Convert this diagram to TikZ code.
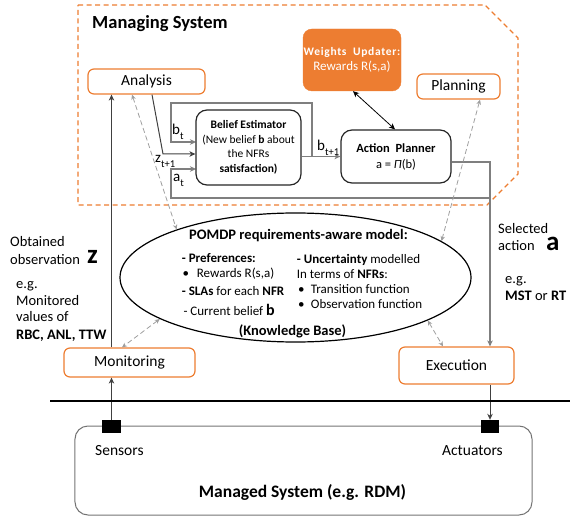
\documentclass[tikz,border=0pt]{standalone}
\usepackage{fontspec}
\setmainfont{Carlito}
\usetikzlibrary{arrows.meta,shapes.geometric}
\definecolor{org}{HTML}{ED7D31}
\definecolor{gl}{HTML}{7F7F7F}
\newcommand\fsz[1]{\fontsize{#1bp}{#1bp}\selectfont}
\newcommand\subt[1]{\raisebox{-0.3em}{\fontsize{10.5bp}{10.5bp}\selectfont #1}}
\begin{document}
\begin{tikzpicture}[x=1bp,y=-1bp,
  >={Stealth[length=6bp,width=5.5bp,inset=1.8bp]},
  obox/.style={draw=org, line width=1.2bp, rounded corners=6bp, fill=white, inner sep=0pt},
  kbox/.style={draw=black!85, line width=1.2bp, rounded corners=11bp, fill=white, inner sep=0pt, align=center},
  gline/.style={draw=gl, line width=1.1bp},
  dline/.style={draw=black!75, line width=1bp},
  dash2/.style={draw=gray!75, line width=0.8bp, dash pattern=on 5bp off 3bp,
     {Stealth[length=5bp,width=4.5bp,inset=1.5bp]}-{Stealth[length=5bp,width=4.5bp,inset=1.5bp]}},
  txt/.style={inner sep=0pt, anchor=base west},
  ctxt/.style={inner sep=0pt, anchor=base},
]
\useasboundingbox (0,0) rectangle (570,518);

% managing system outline
\draw[org, line width=1.2bp, dash pattern=on 5bp off 3.5bp]
  (78,5) -- (485,5) -- (518,38) -- (518,174) -- (487,205) -- (78,205) -- cycle;
\node[txt, font=\fsz{18.5}\bfseries] (mstitle) at (92,28.3) {Managing System};

% feedback loops behind boxes
\draw[gline,->] (312,156.5) -- (312,103) -- (171,103) -- (171,142) -- (196,142);
\draw[gline,->] (490,198) -- (171,198) -- (171,169) -- (196,169);

% boxes
\node[obox, minimum width=117bp, minimum height=25bp, font=\fsz{15.5}] (ana) at (146.5,81.5) {Analysis};
\node[obox, minimum width=83bp, minimum height=25bp, font=\fsz{15.5}] (pla) at (458.5,86.5) {Planning};
\node[fill=org, draw=org, rounded corners=9bp, minimum width=98bp, minimum height=62bp, inner sep=0pt,
      align=center, text=white] (wu) at (352,60)
  {{\fsz{11.5}\bfseries\addfontfeature{LetterSpace=6}Weights\ \ Updater:}\\[3bp]{\fsz{13}Rewards R(s,a)}};
\node[kbox, minimum width=105bp, minimum height=75bp, font=\fontsize{11.5bp}{14.5bp}\selectfont] (be) at (248.5,147.5)
  {\textbf{Belief Estimator}\\(New belief \textbf{b} about\\the NFRs\\\textbf{satisfaction)}};
\node[kbox, minimum width=110bp, minimum height=53bp, font=\fontsize{12.5bp}{16bp}\selectfont] (ap) at (396,156.5)
  {\textbf{Action\ \ Planner}\\a = \textit{Π}(b)};
\node[obox, minimum width=131bp, minimum height=29bp, font=\fsz{15.5}] (mon) at (129.5,362.5) {Monitoring};
\node[obox, minimum width=115bp, minimum height=37bp, font=\fsz{15.5}] (exe) at (456.5,365.5) {Execution};
\node[draw=gray!90!black, line width=1bp, rounded corners=13bp, minimum width=457bp, minimum height=89bp, inner sep=0pt] (mgd) at (303.5,470.5) {};
\node[fill=black, minimum width=19bp, minimum height=13bp, inner sep=0pt] (sen) at (111.5,426.5) {};
\node[fill=black, minimum width=18bp, minimum height=13bp, inner sep=0pt] (act) at (490,426.5) {};
\node[ellipse, draw, line width=1.2bp, minimum width=351bp, minimum height=129bp, inner sep=0pt] (kb) at (295.5,277.5) {};

% connectors
\draw[gline,->] (be.east |- ap.west) -- (ap.west);
\draw[gline,->] (ap.east |- 0,162) -- (490,162) -- (act.north |- exe.north);
\draw[dline,->] (152,0 |- ana.south) -- (163,154) -- (be.west |- 0,154);
\draw[dline,->] (sen.north |- mon.north) -- (sen.north |- ana.south);
\draw[dline,->] (sen.north) -- (sen.north |- mon.south);
\draw[dline,->] (act.north |- exe.south) -- (act.north);
\draw[black, line width=0.8bp, <->] (353,0 |- wu.south) -- (395,0 |- ap.north);
\draw[dash2] (132,0 |- ana.south) -- (kb.158);
\draw[dash2] (480,0 |- pla.south) -- (kb.14);
\draw[dash2] (kb.197) -- (122,0 |- mon.north);
\draw[dash2] (kb.-18) -- (443,0 |- exe.north);
\draw[line width=2bp] (50,401) -- (570,401);

% loop labels
\node[txt, font=\fsz{15}] (lbt) at (172,135) {b\subt{t}};
\node[txt, font=\fsz{15}] (lzt) at (155,163) {z\subt{t+1}};
\node[txt, font=\fsz{15}] (lat) at (173,182) {a\subt{t}};
\node[txt, font=\fsz{15}] (lbt1) at (317,151) {b\subt{t+1}};

% knowledge base text
\node[ctxt, font=\fsz{14.5}\bfseries] (kt) at (298.5,239.3) {POMDP requirements-aware model:};
\node[txt, font=\fsz{13}] (k1) at (181.7,262.7) {\textbf{- Preferences:}};
\node[txt, font=\fsz{13}] (k2) at (182.5,277.7) {•};
\node[txt, font=\fsz{13}] (k2b) at (196.7,277.7) {Rewards R(s,a)};
\node[txt, font=\fsz{13}] (k3) at (181.7,295) {\textbf{- SLAs} for each \textbf{NFR}};
\node[txt, font=\fsz{13}] (k4) at (183.3,315) {- Current belief {\fsz{16}\bfseries b}};
\node[txt, font=\fsz{13}] (k5) at (296.7,263.3) {\textbf{- Uncertainty} modelled};
\node[txt, font=\fsz{13}] (k6) at (296.7,278) {In terms of \textbf{NFRs}:};
\node[txt, font=\fsz{13}] (k7) at (298,293) {•};
\node[txt, font=\fsz{13}] (k7b) at (310.7,293) {Transition function};
\node[txt, font=\fsz{13}] (k8) at (298,308) {•};
\node[txt, font=\fsz{13}] (k8b) at (310.7,308) {Observation function};
\node[ctxt, font=\fsz{14.5}\bfseries] (kbt) at (292.5,335.7) {(Knowledge Base)};

% side texts left
\node[txt, font=\fsz{14.5}] (l1) at (10,246.7) {Obtained};
\node[txt, font=\fsz{14.5}] (l2) at (10,264) {observation};
\node[txt, font=\fsz{27}\bfseries] (lz) at (87,263) {z};
\node[txt, font=\fsz{14.5}] (l3) at (16,288) {e.g.};
\node[txt, font=\fsz{14.5}] (l4) at (16,305) {Monitored};
\node[txt, font=\fsz{14.5}] (l5) at (16,321.7) {values of};
\node[txt, font=\fsz{14.5}\bfseries] (l6) at (16,339.3) {RBC, ANL, TTW};

% side texts right
\node[txt, font=\fsz{14.5}] (r1) at (498,233.3) {Selected};
\node[txt, font=\fsz{14.5}] (r2) at (498,250.7) {action};
\node[txt, font=\fsz{27}\bfseries] (ra) at (546,250.7) {a};
\node[txt, font=\fsz{14.5}] (r3) at (505,283.3) {e.g.};
\node[txt, font=\fsz{14.5}] (r4) at (505,300.7) {\textbf{MST} or \textbf{RT}};

% managed system texts
\node[txt, font=\fsz{15.5}] (stxt) at (95,455) {Sensors};
\node[txt, font=\fsz{15.5}] (atxt) at (442,455) {Actuators};
\node[ctxt, font=\fsz{17.5}\bfseries] (mtxt) at (302.5,497.3) {Managed System (e.g. RDM)};
\end{tikzpicture}
\end{document}
